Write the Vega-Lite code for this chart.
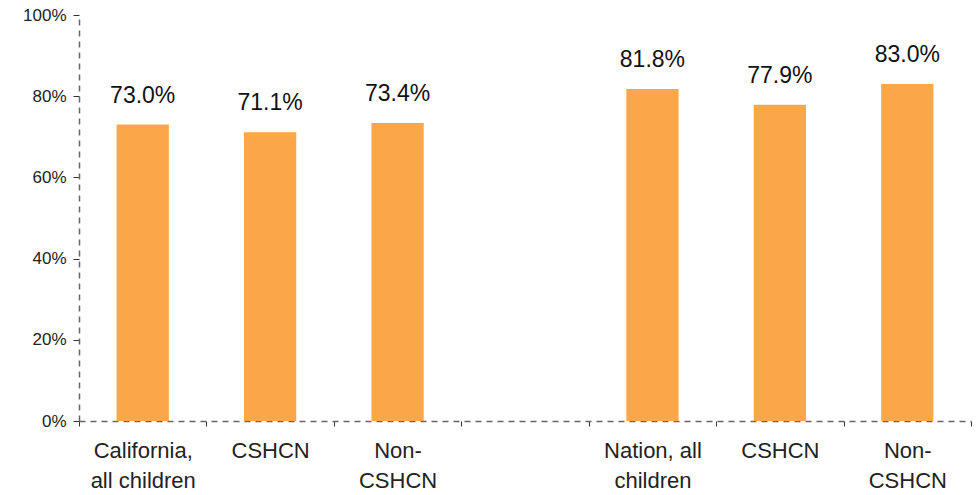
{
  "$schema": "https://vega.github.io/schema/vega-lite/v6.json",
  "width": 892,
  "height": 406,
  "autosize": {"type": "none"},
  "padding": {"left": 79, "top": 15, "right": 7, "bottom": 74},
  "background": "white",
  "config": {"view": {"stroke": null}, "font": "Liberation Sans"},
  "data": {
    "values": [
      {"cat": "California,|all children", "v": 0.730},
      {"cat": "CSHCN", "v": 0.711},
      {"cat": "Non-|CSHCN", "v": 0.734},
      {"cat": "Nation, all|children", "v": 0.818},
      {"cat": "CSHCN ", "v": 0.779},
      {"cat": "Non-|CSHCN ", "v": 0.830}
    ]
  },
  "encoding": {
    "x": {
      "field": "cat",
      "type": "nominal",
      "sort": null,
      "scale": {
        "domain": ["California,|all children", "CSHCN", "Non-|CSHCN", "gap", "Nation, all|children", "CSHCN ", "Non-|CSHCN "],
        "paddingInner": 0,
        "paddingOuter": 0
      },
      "axis": {
        "title": null,
        "labelAngle": 0,
        "labelExpr": "(!isValid(datum.value) || datum.value == 'gap') ? '' : split(datum.value, '|')",
        "labelFontSize": 22,
        "labelLineHeight": 30,
        "labelColor": "#222",
        "labelPadding": 14,
        "tickBand": "extent",
        "tickColor": "#333",
        "tickSize": 5,
        "tickWidth": 1,
        "domainColor": "#666",
        "domainDash": [6, 5],
        "domainWidth": 1.5,
        "labelBaseline": "top"
      }
    },
    "y": {
      "field": "v",
      "type": "quantitative",
      "scale": {"domain": [0, 1]},
      "axis": {
        "title": null,
        "values": [0, 0.2, 0.4, 0.6, 0.8, 1],
        "format": ".0%",
        "grid": false,
        "labelFontSize": 17,
        "labelColor": "#222",
        "labelPadding": 7,
        "tickColor": "#333",
        "tickSize": 6,
        "tickWidth": 1,
        "domainColor": "#666",
        "domainDash": [6, 5],
        "domainWidth": 1.5
      }
    }
  },
  "layer": [
    {
      "mark": {"type": "bar", "color": "#FAA74A", "width": {"band": 0.41}}
    },
    {
      "mark": {"type": "text", "baseline": "bottom", "dy": -17, "fontSize": 23, "color": "#111"},
      "encoding": {"text": {"field": "v", "type": "quantitative", "format": ".1%"}}
    }
  ]
}
